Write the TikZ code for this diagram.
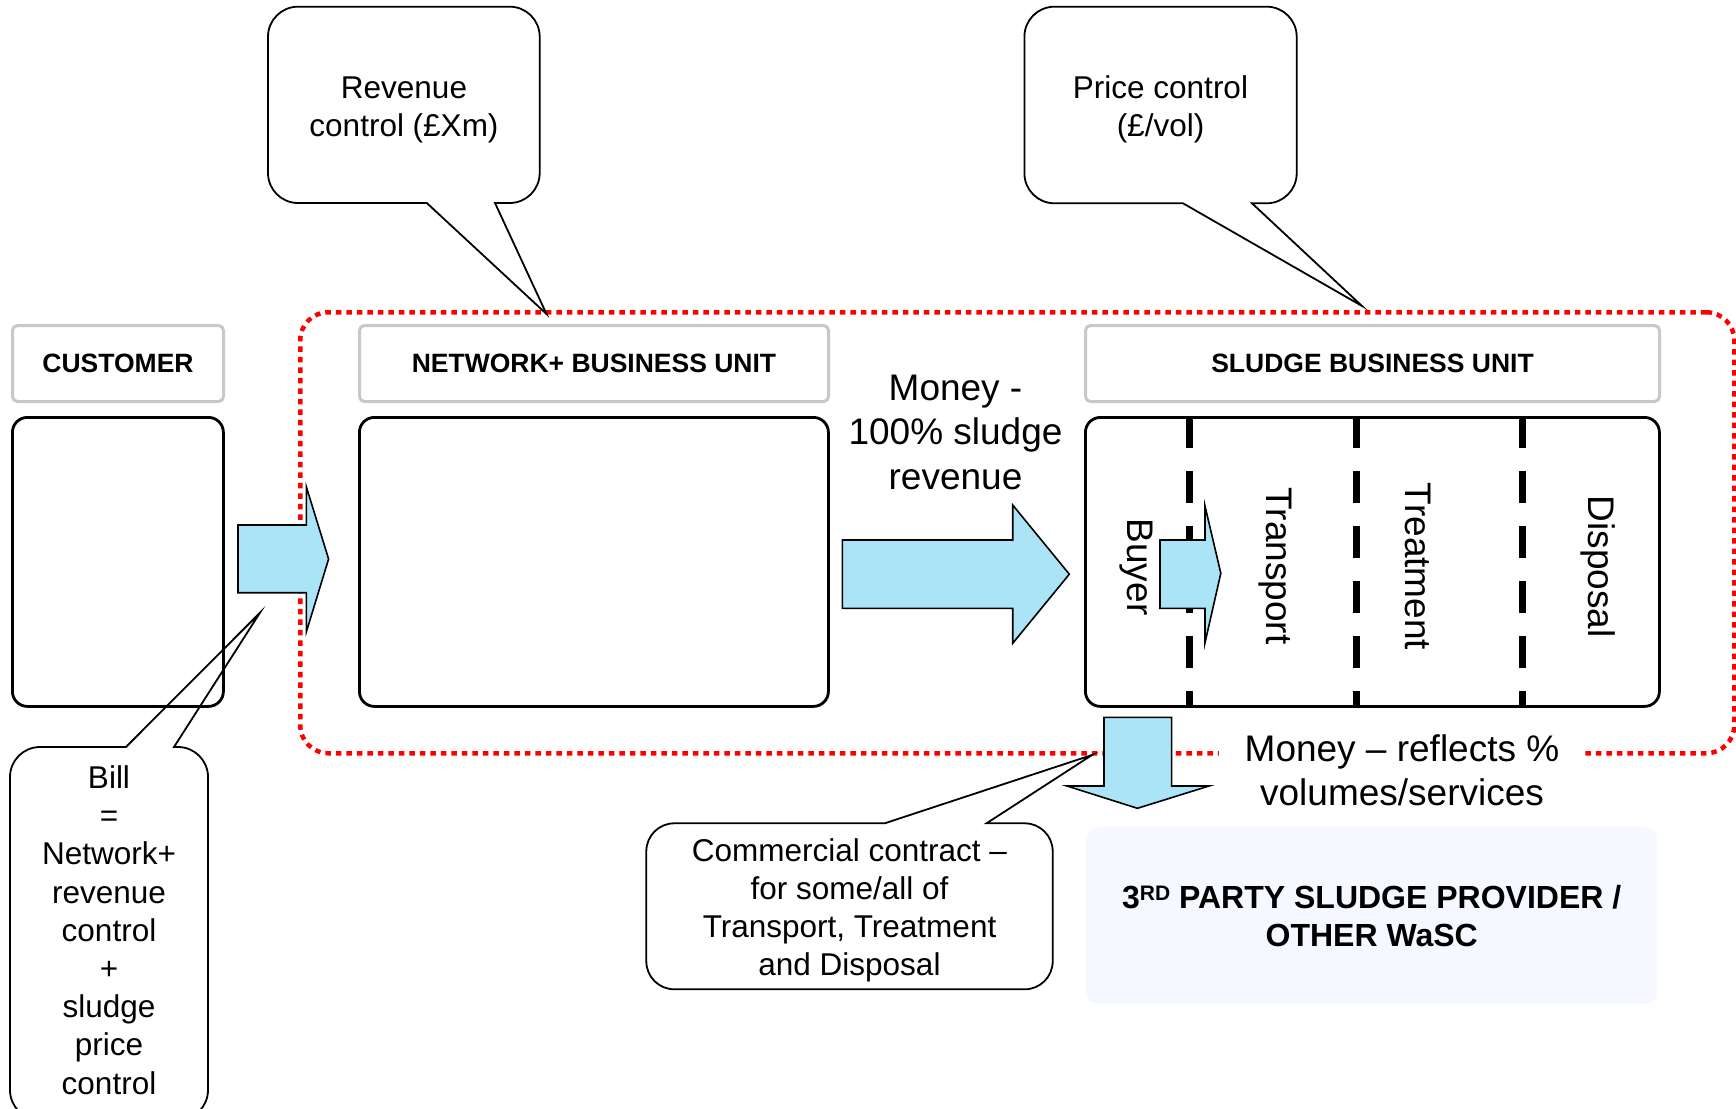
\documentclass[tikz,border=0pt]{standalone}
\usepackage{fontspec}
\setmainfont{Liberation Sans}
\usetikzlibrary{calc}

\definecolor{arrowblue}{RGB}{171,228,247}
\definecolor{hdrgray}{RGB}{200,200,200}
\definecolor{paleblue}{RGB}{245,249,255}
\definecolor{dotred}{RGB}{255,0,0}

\newcommand{\setfs}[2]{\fontsize{#1}{#2}\selectfont}

% speech balloon outline round a box node, tail on the bottom edge
% #1 box node, #2 corner radius, #3 tail base right, #4 tail tip, #5 tail base left
\newcommand{\balloondown}[5]{%
  \draw[balloonline] ([xshift=#2]#1.north west) -- ([xshift=-#2]#1.north east)
    arc[start angle=90,end angle=0,radius=#2] -- ([yshift=#2]#1.south east)
    arc[start angle=0,end angle=-90,radius=#2] -- (#3) -- (#4) -- (#5)
    -- ([xshift=#2]#1.south west)
    arc[start angle=-90,end angle=-180,radius=#2] -- ([yshift=-#2]#1.north west)
    arc[start angle=180,end angle=90,radius=#2] -- cycle;}

% speech balloon outline round a box node, tail on the top edge
% #1 box node, #2 corner radius, #3 tail base left, #4 tail tip, #5 tail base right
\newcommand{\balloonup}[5]{%
  \draw[balloonline] ([xshift=#2]#1.north west) -- (#3) -- (#4) -- (#5)
    -- ([xshift=-#2]#1.north east)
    arc[start angle=90,end angle=0,radius=#2] -- ([yshift=#2]#1.south east)
    arc[start angle=0,end angle=-90,radius=#2] -- ([xshift=#2]#1.south west)
    arc[start angle=-90,end angle=-180,radius=#2] -- ([yshift=-#2]#1.north west)
    arc[start angle=180,end angle=90,radius=#2] -- cycle;}

\tikzset{
  hdr/.style={draw=hdrgray, line width=3pt, rounded corners=5pt, anchor=north west,
    inner sep=0pt, font=\setfs{26.5}{32}\bfseries},
  unitbox/.style={draw=black, line width=2.8pt, rounded corners=15pt, anchor=north west},
  boundary/.style={draw=dotred, line width=4.5pt, dash pattern=on 5.5pt off 5pt,
    rounded corners=28pt, anchor=north west},
  divider/.style={line width=7pt, dash pattern=on 32pt off 23pt},
  blockarrow/.style={fill=arrowblue, draw=black, line width=1.6pt, line join=miter},
  balloonline/.style={draw=black, line width=1.8pt},
  balloonbox/.style={anchor=north west, outer sep=0pt, inner sep=0pt},
  balloontext/.style={align=center, inner sep=0pt, font=\setfs{31.5}{38.2}},
  biglabel/.style={align=center, inner sep=0pt, font=\setfs{37}{44.3}},
  sidelabel/.style={rotate=-90, inner sep=0pt, font=\setfs{37}{43}},
}

\begin{document}
\begin{tikzpicture}[x=1pt, y=1pt]
  % page
  \fill[white] (0,0) rectangle (1736,-1108);
  \useasboundingbox (0,0) rectangle (1736,-1108);

  % regulated boundary round the two business units
  \node[boundary, minimum width=1434pt, minimum height=441pt] (zone) at (298,-310) {};

  % column headers
  \node[hdr, minimum width=211pt, minimum height=76pt] (cusH) at (11,-324) {CUSTOMER};
  \node[hdr, minimum width=469pt, minimum height=76pt] (netH) at (358,-324) {NETWORK+ BUSINESS UNIT};
  \node[hdr, minimum width=574pt, minimum height=76pt] (sluH) at (1084,-324) {SLUDGE BUSINESS UNIT};

  % unit boxes
  \node[unitbox, minimum width=211pt, minimum height=289pt] (cusB) at (11,-416) {};
  \node[unitbox, minimum width=469pt, minimum height=289pt] (netB) at (358,-416) {};
  \node[unitbox, minimum width=574pt, minimum height=289pt] (sluB) at (1084,-416) {};

  % stage dividers inside the sludge unit
  \draw[divider] (1189.5,-416) -- (1189.5,-705);
  \draw[divider] (1356.5,-416) -- (1356.5,-705);
  \draw[divider] (1522.5,-416) -- (1522.5,-705);

  % stage names
  \node[sidelabel] (buyer) at (1136.5,-567) {Buyer};
  \node[sidelabel] (transport) at (1275.5,-566) {Transport};
  \node[sidelabel] (treatment) at (1418,-566.5) {Treatment};
  \node[sidelabel] (disposal) at (1598.5,-566.7) {Disposal};

  % money flows
  \draw[blockarrow] (238,-525) -- (306.4,-525) -- (306.4,-487) -- (328.6,-559)
    -- (306.4,-631.7) -- (306.4,-592.7) -- (238,-592.7) -- cycle;
  \draw[blockarrow] (842.3,-540) -- (1012.7,-540) -- (1012.7,-505) -- (1069.3,-574.2)
    -- (1012.7,-643.3) -- (1012.7,-608.3) -- (842.3,-608.3) -- cycle;
  \draw[blockarrow] (1160,-540) -- (1205,-540) -- (1205,-506) -- (1220.8,-573.3)
    -- (1205,-642.7) -- (1205,-608.3) -- (1160,-608.3) -- cycle;
  \draw[blockarrow] (1104,-717.3) -- (1171.6,-717.3) -- (1171.6,-786) -- (1209,-786)
    -- (1137.4,-808.3) -- (1067,-786) -- (1104,-786) -- cycle;

  \node[biglabel] (money1) at (955.5,-432.4) {Money -\\100\% sludge\\revenue};
  \node[biglabel, fill=white, inner xsep=26pt] (money2) at (1402,-770)
    {Money – reflects \%\\volumes/services};

  % outside provider
  \node[anchor=north west, fill=paleblue, rounded corners=12pt, minimum width=571pt,
    minimum height=177pt, align=center, font=\setfs{32}{38.3}\bfseries] (third)
    at (1086,-827) {3\raisebox{7.5pt}{\setfs{21}{22}RD} PARTY SLUDGE PROVIDER /\\OTHER WaSC};

  % speech balloons
  \node[balloonbox, minimum width=271.7pt, minimum height=196.3pt] (revcall) at (268,-6.7) {};
  \node[balloontext] (revtext) at (404,-109.6) {Revenue\\control (£Xm)};
  \coordinate (revbl) at (426.8,-203);
  \coordinate (revbr) at (495,-203);
  \coordinate (revtip) at (546.5,-314);
  \balloondown{revcall}{30pt}{revbr}{revtip}{revbl}

  \node[balloonbox, minimum width=272.3pt, minimum height=196.6pt] (pricecall) at (1024.4,-6.7) {};
  \node[balloontext] (pricetext) at (1160.5,-109.1) {Price control\\(£/vol)};
  \coordinate (pricebl) at (1183,-203.3);
  \coordinate (pricebr) at (1252,-203.3);
  \coordinate (pricetip) at (1362,-306);
  \balloondown{pricecall}{30pt}{pricebr}{pricetip}{pricebl}

  \node[balloonbox, minimum width=198pt, minimum height=373pt] (billcall) at (10,-747) {};
  \node[balloontext] (billtext) at (109,-930)
    {Bill\\=\\Network+\\revenue\\control\\+\\sludge\\price\\control};
  \coordinate (billbl) at (126,-747);
  \coordinate (billbr) at (174,-747);
  \coordinate (billtip) at (260,-612.7);
  \balloonup{billcall}{30pt}{billbl}{billtip}{billbr}

  \node[balloonbox, minimum width=406.4pt, minimum height=166pt] (contractcall) at (646.3,-823.3) {};
  \node[balloontext] (contracttext) at (849.5,-910.3)
    {Commercial contract –\\for some/all of\\Transport, Treatment\\and Disposal};
  \coordinate (contractbl) at (884.7,-823.3);
  \coordinate (contractbr) at (986.5,-823.3);
  \coordinate (contracttip) at (1092,-755);
  \balloonup{contractcall}{28pt}{contractbl}{contracttip}{contractbr}
\end{tikzpicture}
\end{document}
